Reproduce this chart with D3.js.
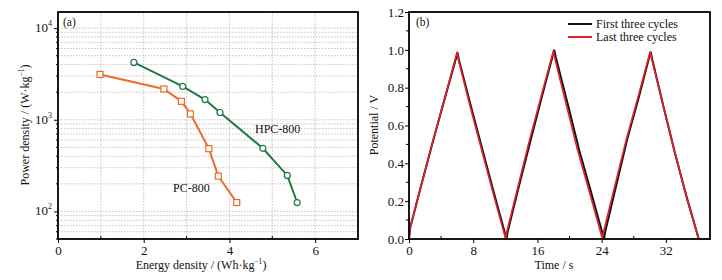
<!DOCTYPE html>
<html><head><meta charset="utf-8">
<script src="https://cdn.jsdelivr.net/npm/d3@7"></script>
<style>body{margin:0;background:#fff}svg{display:block}text{font-family:"Liberation Serif","Times New Roman",serif;fill:#111}</style>
</head><body>
<script>
// ---- Panel (a) data: Ragone plot ----
const hpcEnergy = [1.77, 2.91, 3.43, 3.78, 4.78, 5.35, 5.58];
const hpcPower  = [4220, 2310, 1660, 1200, 488, 247, 125];
const pcEnergy  = [0.98, 2.47, 2.88, 3.09, 3.52, 3.74, 4.17];
const pcPower   = [3120, 2170, 1590, 1160, 484, 243, 125];
const aXTicks = [0, 2, 4, 6];
const aYTicks = [100, 1000, 10000];
const aYTickExp = ["2", "3", "4"];

// ---- Panel (b) data: GCD curves ----
const firstTime = [0, 0.15, 1.5, 3, 4.5, 6.05, 6.2, 7.6, 9.1, 10.6, 12.15, 12.3, 13.7, 15.2, 16.6, 18.1, 18.3, 19.8, 21.2, 22.8, 24.3, 24.45, 25.8, 27.2, 28.7, 30.1, 30.3, 31.7, 33.1, 34.6, 36.1];
const firstPot  = [0, 0.06, 0.28, 0.52, 0.75, 0.985, 0.95, 0.72, 0.48, 0.24, 0, 0.04, 0.28, 0.53, 0.76, 1.0, 0.96, 0.71, 0.47, 0.23, 0, 0.04, 0.28, 0.53, 0.76, 0.99, 0.95, 0.70, 0.46, 0.22, 0];
const lastTime  = [0, 0.15, 1.5, 3, 4.5, 6.0, 6.15, 7.5, 9.0, 10.5, 12.05, 12.2, 13.6, 15.0, 16.5, 18.0, 18.2, 19.6, 21.0, 22.6, 24.1, 24.25, 25.7, 27.1, 28.6, 30.05, 30.25, 31.7, 33.1, 34.6, 36.1];
const lastPot   = [0, 0.06, 0.28, 0.52, 0.75, 0.99, 0.95, 0.72, 0.48, 0.24, 0, 0.04, 0.28, 0.52, 0.76, 0.995, 0.95, 0.71, 0.47, 0.23, 0, 0.04, 0.29, 0.53, 0.76, 0.99, 0.95, 0.70, 0.46, 0.22, 0];
const bXTicks = [0, 8, 16, 24, 32];
const bYTicks = [0, 0.2, 0.4, 0.6, 0.8, 1.0, 1.2];
const legendLabels = ["First three cycles", "Last three cycles"];

const W = 722, H = 280;
const FS = 12, TFS = 13;
const svg = d3.select("body").append("svg").attr("width", W).attr("height", H);

// ================= Panel (a) =================
const ax = d3.scaleLinear().domain([0, 7]).range([58, 358]);
const ay = d3.scaleLog().domain([50, 15000]).range([239, 12]);
const ga = svg.append("g");

// grid
const gridX = d3.range(1, 7);
ga.selectAll("line.gx").data(gridX).join("line")
  .attr("x1", d => ax(d)).attr("x2", d => ax(d)).attr("y1", 12).attr("y2", 239)
  .attr("stroke", "#b5b5b5").attr("stroke-width", 0.8).attr("stroke-dasharray", "1.5,1.5");
const gridY = [];
[10, 100, 1000, 10000].forEach(dec => { for (let k = 1; k <= 9; k++) { const v = dec * k; if (v >= 60 && v <= 10000) gridY.push(v); } });
ga.selectAll("line.gy").data(gridY).join("line")
  .attr("x1", 58).attr("x2", 358).attr("y1", d => ay(d)).attr("y2", d => ay(d))
  .attr("stroke", "#b5b5b5").attr("stroke-width", 0.8).attr("stroke-dasharray", "1.5,1.5");

// axes
const axB = d3.axisBottom(ax).tickValues(aXTicks).tickSize(4).tickFormat(d3.format("d"));
ga.append("g").attr("transform", "translate(0,239)").call(axB).call(g => {
  g.select(".domain").remove();
  g.selectAll("text").attr("font-size", TFS);
});
ga.append("g").selectAll("line").data([1, 3, 5]).join("line")
  .attr("x1", d => ax(d)).attr("x2", d => ax(d)).attr("y1", 239).attr("y2", 236).attr("stroke", "#000");
const axL = d3.axisLeft(ay).tickValues(aYTicks).tickSize(4).tickFormat("");
ga.append("g").attr("transform", "translate(58,0)").call(axL).call(g => g.select(".domain").remove());
ga.append("g").selectAll("line").data(gridY.filter(v => !aYTicks.includes(v)).concat([50])).join("line")
  .attr("x1", 56).attr("x2", 58).attr("y1", d => ay(d)).attr("y2", d => ay(d)).attr("stroke", "#000");
aYTicks.forEach((v, i) => {
  const t = ga.append("text").attr("x", 52).attr("y", ay(v) + 4).attr("text-anchor", "end").attr("font-size", TFS);
  t.append("tspan").text("10");
  t.append("tspan").attr("font-size", 8).attr("dy", -6).text(aYTickExp[i]);
});
ga.append("rect").attr("x", 58).attr("y", 12).attr("width", 300).attr("height", 227)
  .attr("fill", "none").attr("stroke", "#000").attr("stroke-width", 1.8);

// series
const lineA = d3.line().x(d => ax(d[0])).y(d => ay(d[1]));
const hpc = hpcEnergy.map((e, i) => [e, hpcPower[i]]);
const pc = pcEnergy.map((e, i) => [e, pcPower[i]]);
const green = "#1f7a45", orange = "#ec6a2c";
ga.append("path").datum(hpc).attr("d", lineA).attr("fill", "none").attr("stroke", green).attr("stroke-width", 2);
ga.append("path").datum(pc).attr("d", lineA).attr("fill", "none").attr("stroke", orange).attr("stroke-width", 2);
ga.selectAll("circle.h").data(hpc).join("circle").attr("cx", d => ax(d[0])).attr("cy", d => ay(d[1])).attr("r", 3)
  .attr("fill", "#fff").attr("stroke", green).attr("stroke-width", 1.2);
ga.selectAll("rect.p").data(pc).join("rect").attr("x", d => ax(d[0]) - 3).attr("y", d => ay(d[1]) - 3)
  .attr("width", 6).attr("height", 6).attr("fill", "#fff").attr("stroke", orange).attr("stroke-width", 1.2);

ga.append("text").attr("x", 255).attr("y", 133).attr("font-size", FS).text("HPC-800");
ga.append("text").attr("x", 173).attr("y", 192).attr("font-size", FS).text("PC-800");
ga.append("text").attr("x", 63).attr("y", 26).attr("font-size", 11.5).text("(a)");

// axis titles
const xtA = ga.append("text").attr("x", 201).attr("y", 269).attr("text-anchor", "middle").attr("font-size", FS);
xtA.append("tspan").text("Energy density / (Wh·kg");
xtA.append("tspan").attr("font-size", 7.5).attr("dy", -5).text("−1");
xtA.append("tspan").attr("dy", 5).text(")");
const ytA = ga.append("text").attr("transform", "translate(29,125) rotate(-90)").attr("text-anchor", "middle").attr("font-size", FS);
ytA.append("tspan").text("Power density / (W·kg");
ytA.append("tspan").attr("font-size", 7.5).attr("dy", -5).text("−1");
ytA.append("tspan").attr("dy", 5).text(")");

// ================= Panel (b) =================
const bx = d3.scaleLinear().domain([0, 37.5]).range([409, 710]);
const by = d3.scaleLinear().domain([0, 1.2]).range([239, 12]);
const gb = svg.append("g");

gb.append("g").attr("transform", "translate(0,239)")
  .call(d3.axisBottom(bx).tickValues(bXTicks).tickSize(4).tickFormat(d3.format("d")))
  .call(g => { g.select(".domain").remove(); g.selectAll("text").attr("font-size", TFS); });
gb.append("g").selectAll("line").data([4, 12, 20, 28, 36]).join("line")
  .attr("x1", d => bx(d)).attr("x2", d => bx(d)).attr("y1", 239).attr("y2", 236).attr("stroke", "#000");
gb.append("g").attr("transform", "translate(409,0)")
  .call(d3.axisLeft(by).tickValues(bYTicks).tickSize(4).tickFormat(d3.format(".1f")))
  .call(g => { g.select(".domain").remove(); g.selectAll("text").attr("font-size", TFS).attr("x", -5); });
gb.append("g").selectAll("line").data([0.1, 0.3, 0.5, 0.7, 0.9, 1.1]).join("line")
  .attr("x1", 406).attr("x2", 409).attr("y1", d => by(d)).attr("y2", d => by(d)).attr("stroke", "#000");

const lineB = d3.line().x(d => bx(d[0])).y(d => by(d[1]));
const first = firstTime.map((t, i) => [t, firstPot[i]]);
const last = lastTime.map((t, i) => [t, lastPot[i]]);
gb.append("path").datum(first).attr("d", lineB).attr("fill", "none").attr("stroke", "#111").attr("stroke-width", 2);
gb.append("path").datum(last).attr("d", lineB).attr("fill", "none").attr("stroke", "#e3202c").attr("stroke-width", 1.6);

gb.append("rect").attr("x", 409).attr("y", 12).attr("width", 301).attr("height", 227)
  .attr("fill", "none").attr("stroke", "#000").attr("stroke-width", 1.8);

// legend
const legColors = ["#111", "#e3202c"];
legendLabels.forEach((lab, i) => {
  const y = 24 + i * 13;
  gb.append("line").attr("x1", 568).attr("x2", 592).attr("y1", y).attr("y2", y).attr("stroke", legColors[i]).attr("stroke-width", 2);
  gb.append("text").attr("x", 596).attr("y", y + 4).attr("font-size", FS).text(lab);
});
gb.append("text").attr("x", 416).attr("y", 26).attr("font-size", 11.5).text("(b)");

gb.append("text").attr("x", 554).attr("y", 269).attr("text-anchor", "middle").attr("font-size", FS).text("Time / s");
gb.append("text").attr("transform", "translate(378,125) rotate(-90)").attr("text-anchor", "middle").attr("font-size", FS).text("Potential / V");
</script>
</body></html>
